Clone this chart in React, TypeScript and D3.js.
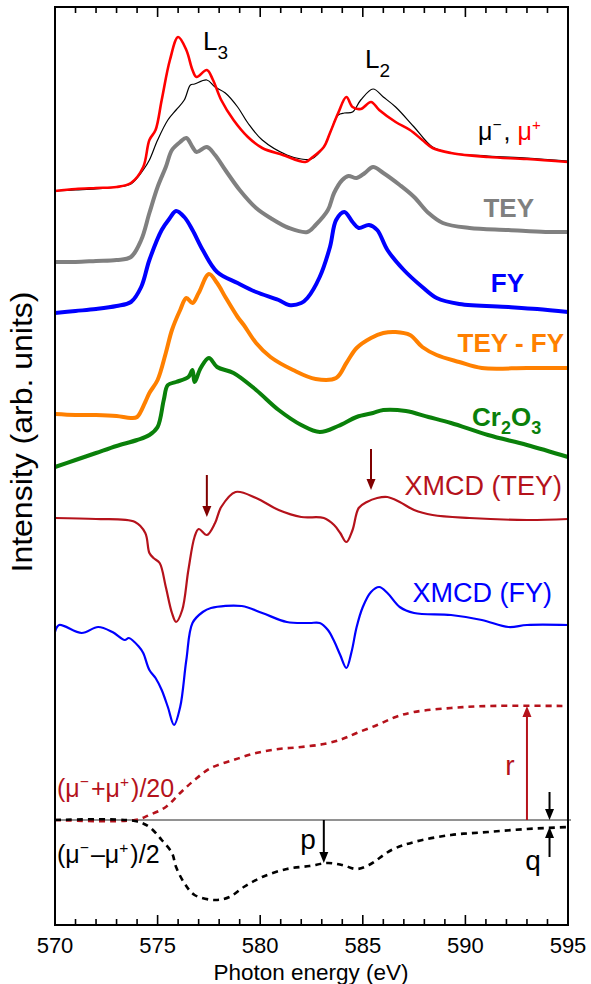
import React from 'react';
import * as d3 from 'd3';

const W = 591;
const H = 984;
const margin = { top: 7, right: 23, bottom: 59, left: 55 };

// photon energies (eV) and intensities (arb. units, curves stacked with offsets)
const eMuMinus = [570, 571, 572, 573, 573.7, 574.3, 574.6, 575.0, 575.5, 575.9, 576.3, 576.6, 576.8, 577.4, 577.8, 578.3, 578.9, 579.4, 580.1, 581.3, 582.0, 582.5, 583.1, 583.4, 583.8, 584.1, 584.5, 584.9, 585.5, 586.0, 586.6, 587.5, 588.4, 589.3, 591.1, 593.0, 595.0];
const muMinus = [6.29, 6.3, 6.31, 6.33, 6.36, 6.5, 6.6, 6.8, 7.0, 7.1, 7.2, 7.35, 7.36, 7.4, 7.33, 7.27, 7.13, 6.97, 6.8, 6.65, 6.61, 6.61, 6.73, 6.87, 7.05, 7.07, 7.08, 7.2, 7.31, 7.23, 7.13, 6.93, 6.73, 6.67, 6.64, 6.62, 6.59];

const eMuPlus = [570, 571, 572, 573, 573.7, 574.3, 574.6, 574.9, 575.2, 575.6, 576.0, 576.4, 576.7, 576.9, 577.4, 577.7, 578.1, 578.7, 579.4, 580.1, 581.1, 582.2, 582.5, 583.1, 583.4, 583.8, 584.2, 584.5, 584.9, 585.4, 585.8, 586.6, 587.3, 587.9, 588.4, 589.3, 591.1, 593.0, 595.0];
const muPlus = [6.29, 6.31, 6.32, 6.33, 6.37, 6.53, 6.8, 6.9, 7.2, 7.6, 7.83, 7.7, 7.5, 7.43, 7.5, 7.4, 7.2, 7.0, 6.83, 6.72, 6.65, 6.58, 6.62, 6.73, 6.87, 7.07, 7.23, 7.13, 7.11, 7.18, 7.1, 6.98, 6.9, 6.8, 6.72, 6.67, 6.63, 6.61, 6.58];

const eTey = [570, 571, 572, 573, 573.7, 574.2, 574.6, 575.0, 575.4, 575.7, 576.1, 576.4, 576.7, 576.9, 577.4, 577.8, 578.3, 579.0, 579.8, 580.5, 581.4, 582.3, 582.7, 583.3, 583.6, 584.0, 584.3, 584.7, 585.1, 585.5, 586.0, 586.8, 587.5, 588.2, 588.9, 590.2, 592.1, 593.9, 595.0];
const tey = [5.58, 5.58, 5.59, 5.6, 5.63, 5.8, 6.07, 6.33, 6.53, 6.7, 6.78, 6.82, 6.73, 6.68, 6.73, 6.65, 6.5, 6.3, 6.12, 6.02, 5.92, 5.88, 5.95, 6.1, 6.27, 6.4, 6.44, 6.42, 6.47, 6.53, 6.47, 6.35, 6.23, 6.07, 5.97, 5.92, 5.9, 5.88, 5.88];

const eFy = [570, 571, 572, 573, 573.7, 574.2, 574.6, 575.2, 575.6, 575.9, 576.3, 576.7, 577.2, 577.9, 578.9, 579.8, 580.9, 581.4, 582.0, 582.3, 582.9, 583.4, 583.7, 584.1, 584.5, 584.8, 585.3, 585.7, 586.2, 587.0, 587.9, 588.6, 589.7, 592.1, 593.5, 595.0];
const fy = [5.07, 5.09, 5.11, 5.14, 5.18, 5.33, 5.6, 5.9, 6.02, 6.09, 6.03, 5.9, 5.7, 5.48, 5.37, 5.28, 5.2, 5.15, 5.17, 5.22, 5.43, 5.73, 6.0, 6.08, 5.98, 5.92, 5.95, 5.9, 5.7, 5.5, 5.33, 5.22, 5.16, 5.13, 5.11, 5.08];

const eDiff = [570, 571, 572, 573, 573.7, 574.0, 574.4, 574.6, 575.0, 575.4, 575.7, 576.1, 576.4, 576.7, 577.0, 577.5, 577.9, 578.3, 578.9, 579.2, 579.8, 580.5, 581.6, 582.7, 583.7, 584.2, 584.7, 585.4, 586.0, 586.6, 587.3, 587.9, 588.6, 589.7, 590.8, 593.0, 595.0];
const teyMinusFy = [4.06, 4.05, 4.05, 4.04, 4.02, 4.03, 4.18, 4.27, 4.4, 4.67, 4.9, 5.1, 5.22, 5.17, 5.27, 5.46, 5.37, 5.23, 5.03, 4.95, 4.77, 4.63, 4.5, 4.41, 4.42, 4.57, 4.72, 4.82, 4.87, 4.88, 4.85, 4.73, 4.65, 4.58, 4.52, 4.52, 4.52];

const eCr = [570, 571, 572, 573, 574, 574.6, 575.0, 575.3, 575.5, 575.9, 576.5, 576.7, 576.8, 577.1, 577.5, 577.9, 578.7, 579.8, 580.9, 582.0, 582.9, 583.8, 584.7, 585.5, 586.0, 587.1, 588.2, 589.3, 591.1, 593.0, 595.0];
const cr2o3 = [3.53, 3.6, 3.67, 3.74, 3.8, 3.85, 3.93, 4.2, 4.35, 4.38, 4.43, 4.5, 4.38, 4.52, 4.62, 4.53, 4.47, 4.3, 4.1, 3.95, 3.88, 3.94, 4.03, 4.07, 4.1, 4.09, 4.03, 3.97, 3.85, 3.75, 3.63];

const eXTey = [570, 572, 573.9, 574.4, 574.6, 574.8, 575.1, 575.4, 575.7, 575.9, 576.2, 576.5, 576.8, 577.0, 577.4, 577.8, 578.1, 578.8, 579.8, 580.9, 582.0, 583.1, 583.6, 583.9, 584.2, 584.5, 584.8, 585.2, 585.7, 586.2, 586.8, 587.5, 588.4, 590.2, 593.0, 595.0];
const xmcdTey = [3.02, 3.01, 2.98, 2.87, 2.67, 2.62, 2.57, 2.33, 2.07, 1.98, 2.1, 2.5, 2.83, 2.91, 2.85, 2.97, 3.13, 3.28, 3.22, 3.1, 3.03, 3.02, 2.95, 2.87, 2.78, 2.9, 3.12, 3.18, 3.22, 3.23, 3.18, 3.1, 3.05, 3.02, 3.0, 3.01];

const eXFy = [570, 570.2, 571.3, 572.1, 572.8, 573.4, 573.6, 574.1, 574.3, 574.6, 574.9, 575.2, 575.5, 575.8, 576.1, 576.4, 576.7, 577.2, 577.6, 579.1, 580.1, 581.3, 582.4, 582.9, 583.3, 583.6, 583.9, 584.2, 584.45, 584.7, 585.0, 585.4, 585.8, 586.2, 586.8, 587.5, 589.3, 590.8, 592.1, 593.0, 595.0];
const xmcdFy = [1.88, 1.95, 1.87, 1.93, 1.88, 1.8, 1.82, 1.73, 1.67, 1.5, 1.42, 1.3, 1.13, 0.95, 1.13, 1.6, 1.97, 2.08, 2.12, 2.14, 2.07, 1.98, 1.97, 1.97, 1.9, 1.79, 1.65, 1.52, 1.68, 1.93, 2.13, 2.28, 2.33, 2.27, 2.13, 2.07, 2.05, 2.0, 1.93, 1.95, 1.95];

const eSum = [570, 573.9, 574.6, 575.4, 576.1, 576.8, 577.6, 578.7, 579.8, 580.9, 582.0, 583.1, 584.0, 584.7, 585.7, 586.6, 587.5, 589.3, 591.1, 595.0];
const sumOver20 = [0, 0, 0.05, 0.13, 0.27, 0.4, 0.52, 0.6, 0.67, 0.71, 0.73, 0.76, 0.81, 0.87, 0.95, 1.03, 1.08, 1.12, 1.14, 1.14];

const eDif2 = [570, 573.9, 574.6, 575.2, 575.7, 575.9, 576.3, 576.8, 577.8, 578.5, 579.2, 580.1, 581.3, 582.4, 583.3, 584.0, 584.7, 585.3, 586.4, 587.5, 589.3, 591.1, 593.0, 595.0];
const diffOver2 = [0, -0.01, -0.07, -0.2, -0.33, -0.47, -0.63, -0.75, -0.8, -0.77, -0.67, -0.57, -0.49, -0.46, -0.43, -0.45, -0.49, -0.45, -0.3, -0.22, -0.15, -0.12, -0.09, -0.07];

const majorTicks = [570, 575, 580, 585, 590, 595];
const minorTicks = d3.range(570, 596, 1);

const RED = '#ff0000';
const CRIMSON = '#b5121b';
const DARKRED = '#800000';
const FONT = '"Liberation Sans", Arial, Helvetica, sans-serif';

const zip = (e: number[], v: number[]) => e.map((x, i) => [x, v[i]] as [number, number]);

export default function App() {
  const x = d3.scaleLinear().domain([570, 595]).range([margin.left, W - margin.right]);
  const y = d3.scaleLinear().domain([-1.05, 8.13]).range([H - margin.bottom, margin.top]);
  const line = d3
    .line<[number, number]>()
    .x((d) => x(d[0]))
    .y((d) => y(d[1]))
    .curve(d3.curveCatmullRom.alpha(0.5));

  const curves = [
    { d: zip(eMuMinus, muMinus), c: '#000', w: 1.2 },
    { d: zip(eMuPlus, muPlus), c: RED, w: 2.6 },
    { d: zip(eTey, tey), c: '#808080', w: 4 },
    { d: zip(eFy, fy), c: '#0000ff', w: 4 },
    { d: zip(eDiff, teyMinusFy), c: '#ff8000', w: 4 },
    { d: zip(eCr, cr2o3), c: '#0a800a', w: 4 },
    { d: zip(eXTey, xmcdTey), c: CRIMSON, w: 2.2 },
    { d: zip(eXFy, xmcdFy), c: '#0000ff', w: 2.2 },
  ];

  const x0 = margin.left;
  const x1 = W - margin.right;
  const yb = H - margin.bottom;
  const yt = margin.top;

  const arrow = (e: number, from: number, to: number, color: string, key: string) => {
    const ax = x(e);
    const ya = y(from);
    const yz = y(to);
    const dir = yz > ya ? 1 : -1;
    const hl = 11;
    return (
      <g key={key}>
        <line x1={ax} x2={ax} y1={ya} y2={yz - dir * hl} stroke={color} strokeWidth={2} />
        <path d={`M${ax},${yz} L${ax - 4.5},${yz - dir * hl} L${ax + 4.5},${yz - dir * hl} Z`} fill={color} />
      </g>
    );
  };

  const sup = (s: string, fs: number) => (
    <>
      <tspan dy={-10} fontSize={fs * 0.62}>{s}</tspan>
      <tspan dy={10}>{'\u200a'}</tspan>
    </>
  );

  return (
    <svg width={W} height={H} style={{ display: 'block', position: 'absolute', left: 0, top: 0 }} fontFamily={FONT}>
      <rect x={0} y={0} width={W} height={H} fill="#fff" />
      {/* zero line */}
      <line x1={x0} x2={x1 + 3} y1={y(0)} y2={y(0)} stroke="#6e6e6e" strokeWidth={1.3} />

      {curves.map((c, i) => (
        <path key={i} d={line(c.d) || ''} fill="none" stroke={c.c} strokeWidth={c.w} strokeLinejoin="round" />
      ))}
      <path d={line(zip(eSum, sumOver20)) || ''} fill="none" stroke={CRIMSON} strokeWidth={2.6} strokeDasharray="6,5" />
      <path d={line(zip(eDif2, diffOver2)) || ''} fill="none" stroke="#000" strokeWidth={2.6} strokeDasharray="6,5" />

      {/* frame */}
      <rect x={x0} y={yt} width={x1 - x0} height={yb - yt} fill="none" stroke="#000" strokeWidth={2} />
      {minorTicks.map((t) => {
        const len = majorTicks.includes(t) ? 10 : 6;
        return (
          <g key={t}>
            <line x1={x(t)} x2={x(t)} y1={yb} y2={yb - len} stroke="#000" strokeWidth={1.6} />
            <line x1={x(t)} x2={x(t)} y1={yt} y2={yt + len} stroke="#000" strokeWidth={1.6} />
          </g>
        );
      })}
      {majorTicks.map((t) => (
        <text key={t} x={x(t)} y={953} textAnchor="middle" fontSize={22}>
          {t}
        </text>
      ))}
      <text x={311} y={980} textAnchor="middle" fontSize={22.5}>
        Photon energy (eV)
      </text>
      <text transform="translate(32,432) rotate(-90)" textAnchor="middle" fontSize={29} textLength={281} lengthAdjust="spacingAndGlyphs">
        Intensity (arb. units)
      </text>

      {/* edge labels */}
      <text x={203} y={50} fontSize={26}>
        L<tspan dy={9} fontSize={19}>3</tspan>
      </text>
      <text x={365} y={68} fontSize={26}>
        L<tspan dy={9} fontSize={19}>2</tspan>
      </text>
      <text x={478} y={140} fontSize={25}>
        μ{sup('−', 25)}, <tspan fill={RED}>μ</tspan>
        <tspan fill={RED} dy={-10} fontSize={15}>+</tspan>
      </text>

      <text x={534} y={217} textAnchor="end" fontSize={26} fontWeight="bold" fill="#808080">TEY</text>
      <text x={524} y={292} textAnchor="end" fontSize={26} fontWeight="bold" fill="#0000ff">FY</text>
      <text x={564} y={352} textAnchor="end" fontSize={26} fontWeight="bold" fill="#ff8000">TEY - FY</text>
      <text x={472} y={426} fontSize={26} fontWeight="bold" fill="#0a800a">
        Cr<tspan dy={8} fontSize={18}>2</tspan>
        <tspan dy={-8}>O</tspan>
        <tspan dy={8} fontSize={18}>3</tspan>
      </text>
      <text x={562} y={495} textAnchor="end" fontSize={27} fill={CRIMSON}>XMCD (TEY)</text>
      <text x={552} y={602} textAnchor="end" fontSize={27} fill="#0000ff">XMCD (FY)</text>

      <text x={57} y={797} fontSize={25} fill={CRIMSON}>
        (μ{sup('−', 25)}+μ{sup('+', 25)})/20
      </text>
      <text x={57} y={863} fontSize={25}>
        (μ{sup('−', 25)}–μ{sup('+', 25)})/2
      </text>

      {arrow(577.4, 3.45, 3.03, DARKRED, 'a1')}
      {arrow(585.4, 3.71, 3.3, DARKRED, 'a2')}
      {arrow(583.1, 0, -0.43, '#000', 'p')}
      {arrow(593.0, 0, 1.14, CRIMSON, 'r')}
      {arrow(594.1, 0.28, 0, '#000', 'q1')}
      {arrow(594.1, -0.37, -0.07, '#000', 'q2')}
      <text x={308} y={849} textAnchor="middle" fontSize={28}>p</text>
      <text x={510} y={775} textAnchor="middle" fontSize={28} fill={CRIMSON}>r</text>
      <text x={533} y={870} textAnchor="middle" fontSize={28}>q</text>
    </svg>
  );
}
